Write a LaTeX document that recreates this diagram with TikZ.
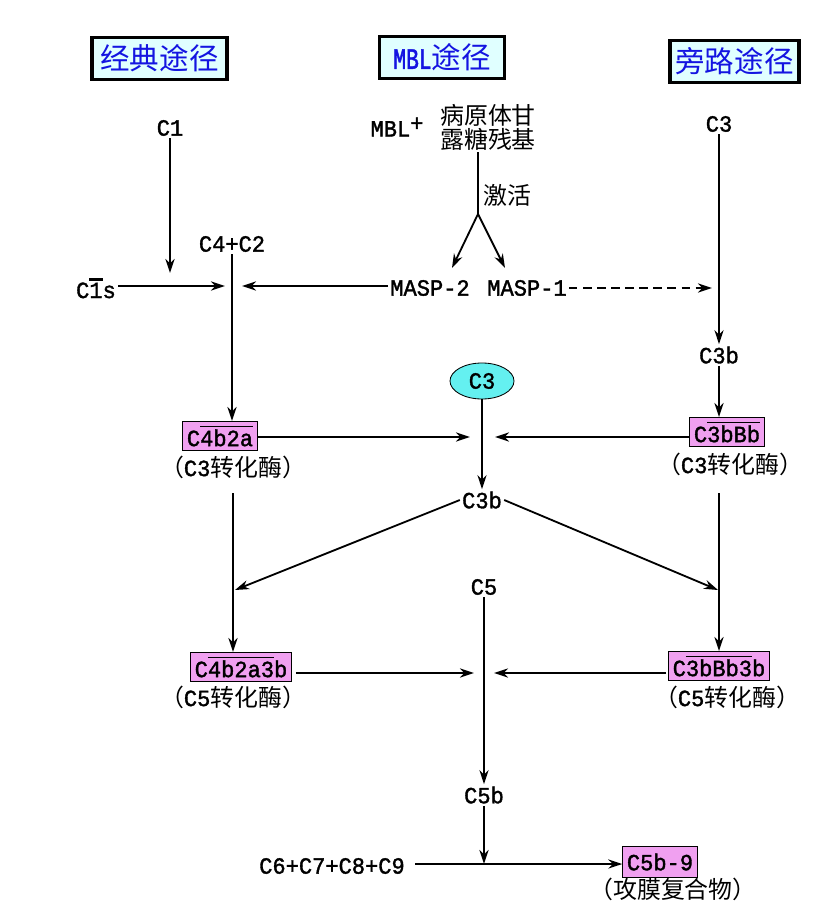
\documentclass[tikz,border=0pt]{standalone}
\usepackage{fontspec}
\setmainfont{Liberation Mono}[FakeBold=1.5, FakeStretch=0.95]
\newfontfamily\zhfont{Noto Sans CJK SC}
\usepackage{tikz}
\usetikzlibrary{arrows.meta, shapes.geometric, positioning}
\tikzset{>={Stealth[length=10pt,width=6.5pt]}}
\newcommand{\zh}[1]{{\fontsize{17}{21}\zhfont #1}}
\newcommand{\ovl}[2][1pt]{\sbox0{#2}\rlap{\rule[\dimexpr\ht0+1.6pt\relax]{\wd0}{#1}}\usebox0}
\definecolor{pinkbox}{RGB}{240,160,240}
\definecolor{cyanell}{RGB}{100,240,240}
\definecolor{titlefill}{RGB}{224,255,255}
\definecolor{titleblue}{RGB}{20,20,225}

\begin{document}
\begin{tikzpicture}[x=0.025cm, y=-0.025cm, line width=1.3pt,
    every node/.style={font=\fontsize{16.5}{19}\selectfont, inner sep=1pt},
    titlebox/.style={draw, line width=2.2pt, fill=titlefill, text=titleblue,
        minimum height=1.07cm, inner sep=0pt, font=\fontsize{21}{24}\zhfont},
    enzyme/.style={draw, line width=0.6pt, fill=pinkbox, inner xsep=3pt, inner ysep=3pt, minimum height=0.6cm},
    note/.style={inner sep=1pt}]
    \useasboundingbox (0,0) rectangle (822,918);
    % the three pathways
    \node[titlebox, minimum width=3.375cm] (classic) at (159.5,58.5) {经典途径};
    \node[titlebox, minimum width=3.125cm] (mblway) at (442,57.5) {{\fontsize{21}{24}\rmfamily\addfontfeature{FakeStretch=0.72}MBL}途径};
    \node[titlebox, minimum width=3.225cm] (altway) at (734.5,61.5) {旁路途径};

    % classical pathway
    \node (c1) at (170,128) {C1};
    \node (c1s) at (96,288) {C\ovl[2pt]{1}s};
    \node (c4c2) at (232,244) {C4+C2};
    \coordinate (c1end) at (170,273);
    \coordinate (c1send) at (225,286);
    \draw[->] (c1) -- (c1end);
    \draw[->] (c1s.east |- c1send) -- (c1send);

    % MBL pathway
    \node (mbl) at (397,127) {MBL\raisebox{4pt}{+}};
    \node[align=center] (sugar) at (488,127) {\zh{病原体甘}\\[-2pt]\zh{露糖残基}};
    \coordinate (act) at (478,214);
    \node (jihuo) at (507,195) {\zh{激活}};
    \node (masp2) at (430,288) {MASP-2};
    \node (masp1) at (527,288) {MASP-1};
    \coordinate (m2end) at (452,268);
    \coordinate (m1end) at (505,268);
    \coordinate (m2left) at (242,286);
    \coordinate (m1right) at (712,288);
    \draw (sugar.south -| act) -- (act);
    \draw[->] (act) -- (m2end);
    \draw[->] (act) -- (m1end);
    \draw[->] (masp2.west |- m2left) -- (m2left);
    \draw[->, dashed, dash pattern=on 6pt off 4pt] (masp1.east |- m1right) -- (m1right);

    % alternative pathway
    \node (c3r) at (719,124) {C3};
    \node (c3br) at (719,355) {C3b};
    \node[enzyme] (c3bbb) at (727,432) {C\ovl{3bBb}};
    \node[note] (c3labr) at (730,464) {\zh{（}C3\zh{转化酶）}};
    \draw[->] (c3r) -- (c3br);
    \draw[->] (c3br.south) -- (c3br.south |- c3bbb.north);

    % C3 convertases
    \node[enzyme] (c4b2a) at (220,436) {C\ovl{4b2a}};
    \node[note] (c3labl) at (233,467) {\zh{（}C3\zh{转化酶）}};
    \draw[->] (c4c2.south) -- (c4c2.south |- c4b2a.north);
    \node[ellipse, draw, line width=0.6pt, fill=cyanell, minimum width=1.6cm, minimum height=0.9cm, inner sep=0pt] (c3) at (482,381) {C3};
    \node (c3b) at (482,500) {C3b};
    \coordinate (j1l) at (470,437);
    \coordinate (j1r) at (495,437);
    \draw[->] (c4b2a.east |- j1l) -- (j1l);
    \draw[->] (c3bbb.west |- j1r) -- (j1r);
    \draw[->] (c3) -- (c3b);
    \coordinate (c3bl) at (235,590);
    \coordinate (c3bright) at (718,590);
    \draw[->] (c3b.west) -- (c3bl);
    \draw[->] (c3b.east) -- (c3bright);

    % C5 convertases
    \node[enzyme] (c4b2a3b) at (241,667) {C\ovl{4b2a3}b};
    \node[note] (c5labl) at (233,697) {\zh{（}C5\zh{转化酶）}};
    \node[enzyme] (c3bbb3b) at (719,666) {C\ovl{3bBb3}b};
    \node[note] (c5labr) at (727,697) {\zh{（}C5\zh{转化酶）}};
    \coordinate (l5top) at (233,493);
    \coordinate (r5top) at (719,493);
    \draw[->] (l5top) -- (l5top |- c4b2a3b.north);
    \draw[->] (r5top) -- (r5top |- c3bbb3b.north);
    \node (c5) at (484,587) {C5};
    \node (c5b) at (484,795) {C5b};
    \coordinate (j2l) at (474,673);
    \coordinate (j2r) at (494,673);
    \draw[->] (c4b2a3b.east |- j2l) ++(4,0) -- (j2l);
    \draw[->] (c3bbb3b.west |- j2r) ++(-2,0) -- (j2r);
    \draw[->] (c5) -- (c5b);

    % membrane attack complex
    \node (c6c9) at (332,866) {C6+C7+C8+C9};
    \node[enzyme, minimum height=0.78cm] (c5b9) at (660,862) {C5b-9};
    \node[note] (maclab) at (673,889) {\zh{（攻膜复合物）}};
    \coordinate (j3) at (484,864);
    \draw[->] (c5b) -- (j3);
    \draw[->] (c6c9.east |- j3) ++(8,0) -- (c5b9.west |- j3);
\end{tikzpicture}
\end{document}
